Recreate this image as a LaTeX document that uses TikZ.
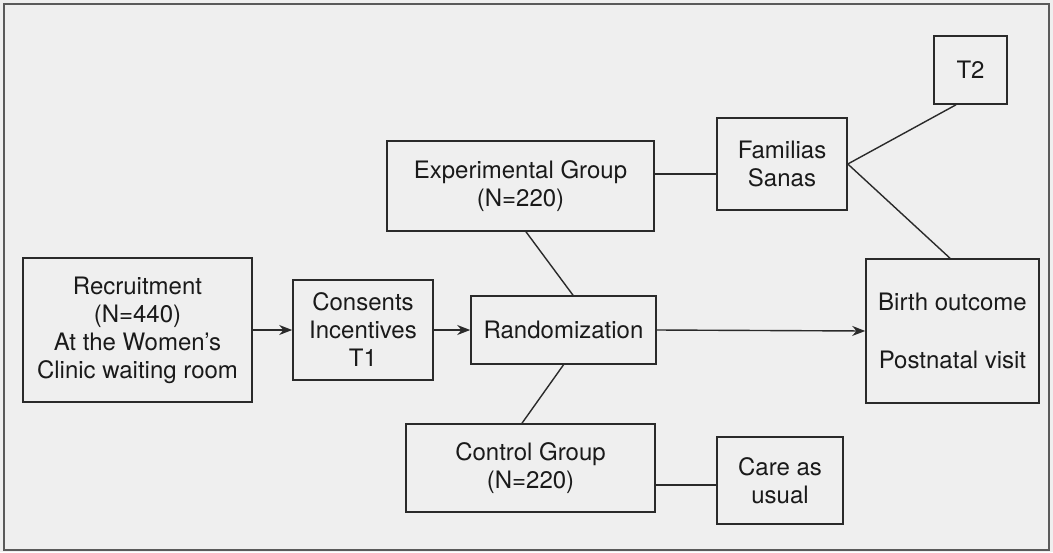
\documentclass[tikz,border=0pt]{standalone}
\usepackage{fontspec}
\setmainfont{TeX Gyre Heros}
\usetikzlibrary{arrows.meta}
\definecolor{bg}{HTML}{EFEFEF}
\definecolor{ink}{HTML}{2A2A2A}
\definecolor{txt}{HTML}{1A1A1A}
\definecolor{framec}{HTML}{5A5A5A}
\tikzset{
  box/.style={draw=ink, line width=1.6pt, text=txt, align=center, inner sep=0pt,
    font=\fontsize{24}{28}\selectfont},
  link/.style={draw=ink, line width=1.4pt},
  arr/.style={link, -{Stealth[length=13pt,width=10pt]}}
}
\begin{document}
\begin{tikzpicture}[x=1pt,y=-1pt]
\useasboundingbox (0,0) rectangle (1053,552);
\fill[bg] (0,0) rectangle (1053,552);
\draw[framec, line width=1.5pt] (4,4) rectangle (1049,550);

\node[box, minimum width=229pt, minimum height=144pt] (rec) at (137.5,330)
  {Recruitment\\(N=440)\\At the Women’s\\Clinic waiting room};
\node[box, minimum width=140pt, minimum height=100pt] (cons) at (363,330)
  {Consents\\Incentives\\T1};
\node[box, minimum width=185pt, minimum height=68pt] (rand) at (563.5,330)
  {Randomization};
\node[box, minimum width=267pt, minimum height=90pt] (exp) at (520.5,186)
  {Experimental Group\\(N=220)};
\node[box, minimum width=249pt, minimum height=88pt] (ctrl) at (530.5,468)
  {Control Group\\(N=220)};
\node[box, minimum width=126pt, minimum height=87pt] (care) at (780,480.5)
  {Care as\\usual};
\node[box, minimum width=130pt, minimum height=92pt] (fam) at (782,164)
  {Familias\\Sanas};
\node[box, minimum width=73pt, minimum height=68pt] (t2) at (970.5,70)
  {T2};
\node[box, minimum width=173pt, minimum height=144pt] (birth) at (952.5,331)
  {Birth outcome\\[30pt]Postnatal visit};

\draw[arr] (rec.east) -- (cons.west);
\draw[arr] (cons.west -| cons.east) -- (rand.west);
\draw[arr] (rand.east) -- (birth.west);
\draw[link] ([xshift=5.5pt]exp.south) -- ([xshift=9.5pt]rand.north);
\draw[link] (rand.south) -- ([xshift=-8.5pt]ctrl.north);
\draw[link] ([yshift=12pt]exp.east) -- ([yshift=12pt]exp.east -| fam.west);
\draw[link] (fam.east) -- ([xshift=-14.5pt]t2.south);
\draw[link] (fam.east) -- ([xshift=-2.5pt]birth.north);
\draw[link] ([yshift=-17pt]ctrl.east) -- ([yshift=-17pt]ctrl.east -| care.west);
\end{tikzpicture}
\end{document}
